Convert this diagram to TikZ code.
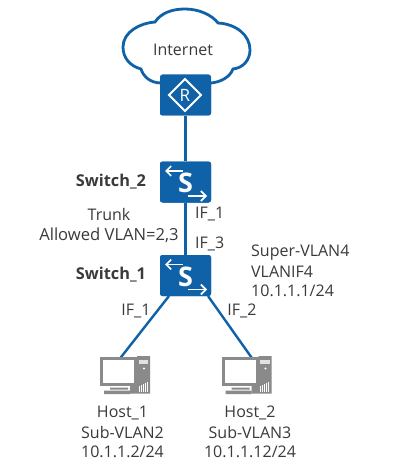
\documentclass[tikz,border=0pt]{standalone}
\usepackage{fontspec}
\setmainfont{Open Sans}
\definecolor{hw}{HTML}{0F62A8}
\definecolor{txt}{HTML}{3A3A3A}
\definecolor{pcg}{HTML}{8A8A8A}
\usetikzlibrary{arrows.meta}
\tikzset{
 device/.style={fill=hw,draw=none,rounded corners=2.5pt,minimum width=51pt,minimum height=41pt},
 link/.style={draw=hw,line width=2.4pt},
 glyph/.style={draw=white,line width=1.6pt,-{Straight Barb[length=5pt,width=10pt,line width=1.6pt]}},
 lbl/.style={font=\fontsize{16}{19}\selectfont,text=txt,align=center,inner sep=0pt},
 blbl/.style={font=\fontsize{16.3}{19}\selectfont\bfseries,text=txt,inner sep=0pt},
 letter/.style={text=white,inner sep=0pt},
 pc/.pic={
  \fill[pcg] (0,-4) rectangle (37,25);
  \fill[white] (3,-1) rectangle (34,22.5);
  \fill[pcg] (10,27) rectangle (28,29) (4,30) rectangle (30,33.5);
  \fill[pcg] (37,-4.5) -- (50,-4.5) -- (50,33) -- (30,33) -- (30,25) -- (37,25) -- cycle;
  \fill[white!75!pcg] (38.5,-1) rectangle (48,3);
  \fill[white] (44,8) circle (1.1);
  \foreach \i in {0,...,4}{\draw[white,line width=.5pt] (39+\i*2,31.5) -- (39+\i*2,{25-\i});}
 }
}
\begin{document}
\begin{tikzpicture}[x=1pt,y=-1pt]
\useasboundingbox (0,0) rectangle (401,473);
\fill[white] (0,0) rectangle (401,473);
\coordinate (h1) at (118,361);
\coordinate (h2) at (254,361);
\node[device] (r) at (185.5,95) {};
\node[device] (s2) at (185.5,182) {};
\node[device] (s1) at (185.5,275.5) {};
\draw[link] (r) -- (s2);
\draw[link] (s2) -- (s1);
\draw[link] (169,296) -- (h1);
\draw[link] (208,296) -- (h2);
% cloud
\draw[draw=hw,line width=2.8pt,fill=white]
 (161,83) .. controls (150,83) and (143,76) .. (141,69)
 .. controls (130,66) and (123,58) .. (123,47)
 .. controls (123,32) and (140,23) .. (155,22)
 .. controls (161,13) and (172,9) .. (185,9)
 .. controls (199,9) and (212,15) .. (218,23)
 .. controls (236,24) and (250,35) .. (250,50)
 .. controls (250,60) and (243,68) .. (233,69)
 .. controls (230,77) and (221,82) .. (211,83);
\node[lbl] (inet) at (183,50) {Internet};
\node[device] (rb) at (185.5,95) {};
\node[device] (s2b) at (185.5,182) {};
\node[device] (s1b) at (185.5,275.5) {};
\draw[white,line width=1.8pt] (185,79) -- (201,95) -- (185,111) -- (169,95) -- cycle;
\node[letter,font=\fontsize{17}{17}\selectfont] at (185,95) {R};
\foreach \yy in {182,275.5}{
 \node[letter,font=\fontsize{27}{27}\selectfont\bfseries] at (185.5,{\yy+1}) {S};
 \draw[glyph] (183,{\yy-11}) -- (165,{\yy-11});
 \draw[glyph] (188,{\yy+14}) -- (207,{\yy+14});
}
\pic at (100,360.5) {pc};
\pic at (221.5,360.5) {pc};
\node[blbl] at (111,182) {Switch\_2};
\node[blbl] at (111,274.5) {Switch\_1};
\node[lbl] at (109,214) {Trunk};
\node[lbl,font=\fontsize{16.6}{19}\selectfont] at (109,235) {Allowed VLAN=2,3};
\node[lbl,anchor=west] at (195,214) {IF\_1};
\node[lbl,anchor=west] at (195,244) {IF\_3};
\node[lbl,anchor=west] at (251,253) {Super-VLAN4};
\node[lbl,anchor=west] at (251,272) {VLANIF4};
\node[lbl,anchor=west] at (251,291) {10.1.1.1/24};
\node[lbl] at (136,311) {IF\_1};
\node[lbl] at (242,311) {IF\_2};
\node[lbl] at (122.5,413) {Host\_1};
\node[lbl] at (122.5,432) {Sub-VLAN2};
\node[lbl] at (122.5,452) {10.1.1.2/24};
\node[lbl] at (250,413) {Host\_2};
\node[lbl] at (250,432) {Sub-VLAN3};
\node[lbl] at (250,452) {10.1.1.12/24};
\end{tikzpicture}
\end{document}
